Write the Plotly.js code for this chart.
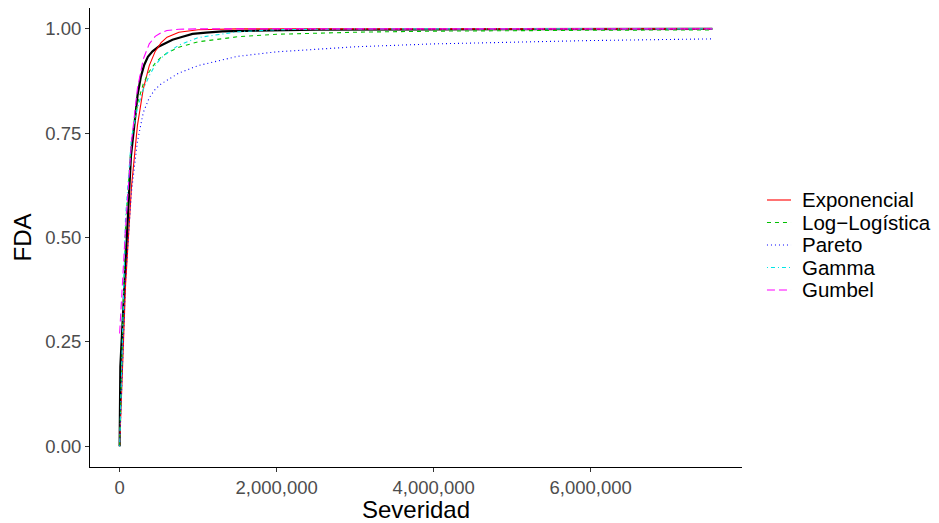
<!DOCTYPE html>
<html>
<head>
<meta charset="utf-8">
<script src="https://cdn.plot.ly/plotly-3.0.1.min.js"></script>
<style>html,body{margin:0;padding:0;background:#fff;}#chart{width:939px;height:523px;}</style>
</head>
<body>
<div id="chart"></div>
<script>
// Empirical CDF (black)
const xEmp = [0, 2000, 9000, 40000, 77500, 110000, 144000, 165000, 200000, 229000, 270000, 314000, 360000, 419000, 500000, 589000, 673000, 780000, 928000, 1100000, 1309000, 1728000, 2500000, 4000000, 5500000, 7550000];
const fEmp = [0, 0.187, 0.19, 0.305, 0.445, 0.565, 0.695, 0.731, 0.79, 0.842, 0.885, 0.914, 0.933, 0.946, 0.958, 0.966, 0.974, 0.98, 0.988, 0.991, 0.994, 0.996, 0.998, 0.999, 1, 1];

// Fitted CDFs, read on a common x grid
const xFit = [0, 75500, 151000, 226500, 302000, 377500, 453000, 528500, 604000, 755000, 1000000, 1500000, 2000000, 3000000, 4000000, 5000000, 6000000, 7550000];
const fExponencial = [0, 0.386, 0.622, 0.768, 0.857, 0.912, 0.946, 0.967, 0.980, 0.992, 0.998, 1, 1, 1, 1, 1, 1, 1];
const fLogLogistica = [0, 0.53, 0.732, 0.821, 0.869, 0.898, 0.918, 0.932, 0.942, 0.956, 0.969, 0.981, 0.987, 0.992, 0.9945, 0.996, 0.9967, 0.9976];
const fPareto = [0, 0.40, 0.61, 0.73, 0.80, 0.835, 0.855, 0.868, 0.877, 0.894, 0.912, 0.934, 0.945, 0.957, 0.964, 0.968, 0.972, 0.976];
const fGamma = [0, 0.55, 0.74, 0.81, 0.855, 0.888, 0.913, 0.930, 0.942, 0.961, 0.979, 0.993, 0.998, 1, 1, 1, 1, 1];
const fGumbel = [0.27, 0.523, 0.729, 0.857, 0.928, 0.964, 0.982, 0.991, 0.996, 0.999, 1, 1, 1, 1, 1, 1, 1, 1];

const seriesNames = ["Exponencial", "Log\u2212Logística", "Pareto", "Gamma", "Gumbel"];
const xTicks = [0, 2000000, 4000000, 6000000];
const yTicks = [0, 0.25, 0.5, 0.75, 1];

const fits = [fExponencial, fLogLogistica, fPareto, fGamma, fGumbel];
const colors = ["#FF0000", "#00C000", "#0000FF", "#00E5E5", "#FF00FF"];
const dashes = ["solid", "4px,4px", "1px,3px", "1px,3px,4px,3px", "8px,4px"];

const FONT = "Liberation Sans, Arial, sans-serif";

const traces = [{
  x: xEmp, y: fEmp, type: "scatter", mode: "lines",
  line: {color: "#000000", width: 2.2}, showlegend: false, hoverinfo: "skip"
}];
fits.forEach((f, i) => {
  traces.push({
    x: xFit, y: f, type: "scatter", mode: "lines", name: seriesNames[i],
    line: {color: colors[i], width: 1.1, dash: dashes[i]}, showlegend: false
  });
});

// Legend (ggplot-style compact keys), placed in paper coordinates
const legY0 = 0.5817, legStep = 0.049;
const shapes = [], annotations = [];
seriesNames.forEach((nm, i) => {
  const yy = legY0 - i * legStep;
  shapes.push({type: "line", xref: "paper", yref: "paper", x0: 1.0383, x1: 1.0752, y0: yy, y1: yy,
    line: {color: colors[i], width: 1.1, dash: dashes[i]}});
  annotations.push({xref: "paper", yref: "paper", x: 1.089, y: yy, xanchor: "left", yanchor: "middle",
    text: nm, showarrow: false, font: {family: FONT, size: 20.5, color: "#000"}});
});

const tickFont = {family: FONT, size: 18.5, color: "#4D4D4D"};
const layout = {
  width: 939, height: 523,
  margin: {l: 90, r: 197, t: 8, b: 56},
  paper_bgcolor: "#ffffff", plot_bgcolor: "#ffffff",
  font: {family: FONT},
  xaxis: {
    range: [-377500, 7927500], tickvals: xTicks, tickformat: ",d",
    showgrid: false, zeroline: false, showline: true, linecolor: "#000000", linewidth: 1,
    ticks: "outside", ticklen: 4, tickcolor: "#333333", tickfont: tickFont,
    title: {text: "Severidad", font: {family: FONT, size: 24, color: "#000"}, standoff: 2}
  },
  yaxis: {
    range: [-0.05, 1.05], tickvals: yTicks, tickformat: ".2f",
    showgrid: false, zeroline: false, showline: true, linecolor: "#000000", linewidth: 1,
    ticks: "outside", ticklen: 4, tickcolor: "#333333", tickfont: tickFont,
    title: {text: "FDA", font: {family: FONT, size: 24, color: "#000"}, standoff: 6}
  },
  shapes: shapes,
  annotations: annotations,
  showlegend: false
};
Plotly.newPlot("chart", traces, layout, {staticPlot: true, displayModeBar: false});
</script>
</body>
</html>
